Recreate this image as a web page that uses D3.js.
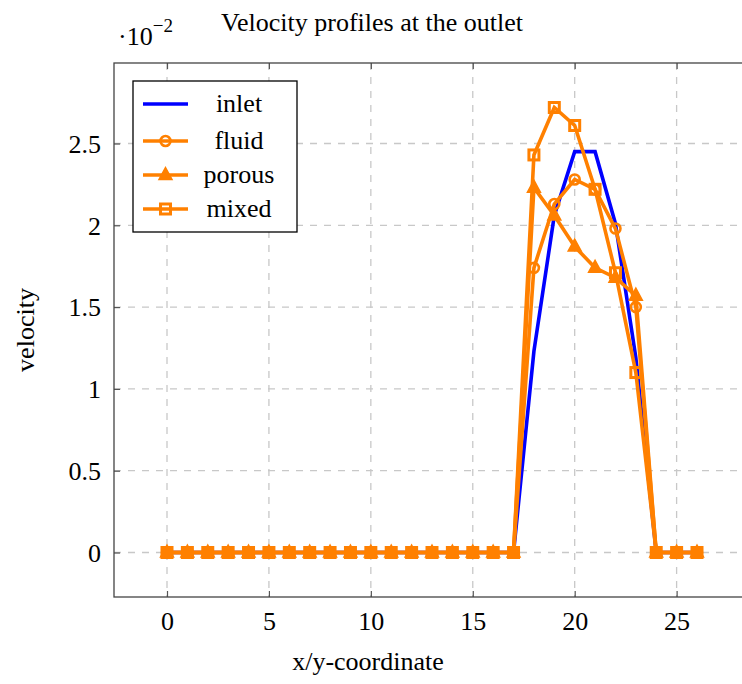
<!DOCTYPE html>
<html><head><meta charset="utf-8">
<script src="https://cdn.jsdelivr.net/npm/d3@7"></script>
<style>
body{margin:0;background:#fff;}
svg text{font-family:"Liberation Serif","DejaVu Serif",serif;fill:#000;}
</style></head>
<body><svg id="c" width="742" height="684"></svg>
<script>
// ---- data ----
const xs = [0,1,2,3,4,5,6,7,8,9,10,11,12,13,14,15,16,17,18,19,20,21,22,23,24,25,26];
const inlet  = [0,0,0,0,0,0,0,0,0,0,0,0,0,0,0,0,0,0,1.23,2.06,2.45,2.45,2.01,1.19,0,0,0];
const fluid  = [0,0,0,0,0,0,0,0,0,0,0,0,0,0,0,0,0,0,1.74,2.13,2.28,2.22,1.98,1.50,0,0,0];
const porous = [0,0,0,0,0,0,0,0,0,0,0,0,0,0,0,0,0,0,2.23,2.06,1.87,1.74,1.68,1.57,0,0,0];
const mixed  = [0,0,0,0,0,0,0,0,0,0,0,0,0,0,0,0,0,0,2.43,2.72,2.61,2.22,1.71,1.10,0,0,0];
const seriesNames = ["inlet","fluid","porous","mixed"];
const seriesMarks = ["none","circle","triangle","square"];
const seriesColors = ["#0000ff","#ff8000","#ff8000","#ff8000"];
const xTicks = [0,5,10,15,20,25];
const yTicks = [0,0.5,1,1.5,2,2.5];
const yTickLabels = ["0","0.5","1","1.5","2","2.5"];
const title = "Velocity profiles at the outlet";
const xLabel = "x/y-coordinate";
const yLabel = "velocity";

// ---- layout ----
const FS = "26px";
const L = 114, R = 750, T = 63, B = 597;
const svg = d3.select("#c");
const x = d3.scaleLinear().domain([-2.6, 28.6]).range([L, R]);
const y = d3.scaleLinear().domain([-0.272, 2.992]).range([B, T]);

// grid
const g = svg.append("g");
g.selectAll("line.gx").data(xTicks).enter().append("line")
  .attr("x1", d=>x(d)).attr("x2", d=>x(d)).attr("y1", T).attr("y2", B)
  .attr("stroke","#c8c8c8").attr("stroke-width",1.3).attr("stroke-dasharray","7,7");
g.selectAll("line.gy").data(yTicks).enter().append("line")
  .attr("y1", d=>y(d)).attr("y2", d=>y(d)).attr("x1", L).attr("x2", R)
  .attr("stroke","#c8c8c8").attr("stroke-width",1.3).attr("stroke-dasharray","7,7");

// axes with inside ticks
const axB = d3.axisBottom(x).tickValues(xTicks).tickSize(-6).tickFormat(d3.format("d"));
const axT = d3.axisTop(x).tickValues(xTicks).tickSize(-6).tickFormat("");
const axL = d3.axisLeft(y).tickValues(yTicks).tickSize(-6).tickFormat((d,i)=>yTickLabels[i]);
const axR = d3.axisRight(y).tickValues(yTicks).tickSize(-6).tickFormat("");
function styleAx(sel){
  sel.select(".domain").remove();
  sel.selectAll(".tick line").attr("stroke","#555").attr("stroke-width",1.2);
  sel.selectAll(".tick text").style("font-family","'Liberation Serif',serif").style("font-size",FS).attr("fill","#000");
}
const gB = svg.append("g").attr("transform",`translate(0,${B})`).call(axB).call(styleAx);
svg.append("g").attr("transform",`translate(0,${T})`).call(axT).call(styleAx);
const gL = svg.append("g").attr("transform",`translate(${L},0)`).call(axL).call(styleAx);
svg.append("g").attr("transform",`translate(${R},0)`).call(axR).call(styleAx);
gB.selectAll(".tick text").attr("dy", null).attr("y", 33);
gL.selectAll(".tick text").attr("dy", "0.34em").attr("x", -13);
// box
svg.append("rect").attr("x",L).attr("y",T).attr("width",R-L).attr("height",B-T)
  .attr("fill","none").attr("stroke","#444").attr("stroke-width",1.3);

// series
const allVals = [inlet, fluid, porous, mixed];
const line = d3.line().x((d,i)=>x(xs[i])).y(d=>y(d));
function drawMark(sel, kind, color){
  if(kind==="circle"){
    sel.append("circle").attr("r",5).attr("fill","none").attr("stroke",color).attr("stroke-width",2.6);
  } else if(kind==="triangle"){
    sel.append("path").attr("d","M0,-7.5L6.5,4.5L-6.5,4.5Z").attr("fill",color).attr("stroke",color).attr("stroke-width",1.5).attr("stroke-linejoin","miter");
  } else if(kind==="square"){
    sel.append("rect").attr("x",-5).attr("y",-5).attr("width",10).attr("height",10)
      .attr("fill","none").attr("stroke",color).attr("stroke-width",3);
  }
}
const plotG = svg.append("g");
allVals.forEach((vals, si)=>{
  plotG.append("path").datum(vals).attr("d", line).attr("fill","none")
    .attr("stroke", seriesColors[si]).attr("stroke-width",3.6).attr("stroke-linejoin","miter");
  if(seriesMarks[si]!=="none"){
    vals.forEach((v,i)=>{
      const m = plotG.append("g").attr("transform",`translate(${x(xs[i])},${y(v)})`);
      drawMark(m, seriesMarks[si], seriesColors[si]);
    });
  }
});

// legend
const lg = svg.append("g");
lg.append("rect").attr("x",133).attr("y",81).attr("width",164).attr("height",151)
  .attr("fill","#fff").attr("stroke","#000").attr("stroke-width",1.3);
const rowY = [104, 141, 175, 209];
seriesNames.forEach((n, i)=>{
  const yy = rowY[i];
  lg.append("line").attr("x1",143).attr("x2",188).attr("y1",yy).attr("y2",yy)
    .attr("stroke",seriesColors[i]).attr("stroke-width",3.6);
  if(seriesMarks[i]!=="none"){
    const m = lg.append("g").attr("transform",`translate(165.5,${yy})`);
    drawMark(m, seriesMarks[i], seriesColors[i]);
  }
  lg.append("text").attr("x",239).attr("y",yy+8).attr("text-anchor","middle")
    .style("font-size",FS).text(n);
});

// title and labels
svg.append("text").attr("x",372).attr("y",31).attr("text-anchor","middle").style("font-size",FS).text(title);
svg.append("text").attr("x",368).attr("y",670).attr("text-anchor","middle").style("font-size",FS).text(xLabel);
svg.append("text").attr("transform",`translate(34,330) rotate(-90)`).attr("text-anchor","middle").style("font-size",FS).text(yLabel);
const ex = svg.append("text").attr("x",118).attr("y",45).style("font-size",FS);
ex.append("tspan").text("·10");
ex.append("tspan").attr("dy",-13).style("font-size","19px").text("−2");
</script></body></html>
